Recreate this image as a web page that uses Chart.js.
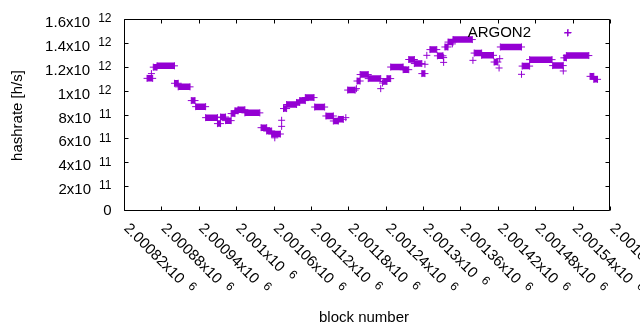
<!DOCTYPE html>
<html><head><meta charset="utf-8">
<script src="https://cdn.jsdelivr.net/npm/chart.js@4.4.0/dist/chart.umd.min.js"></script>
<style>html,body{margin:0;padding:0;background:#fff;}</style>
</head><body>
<canvas id="c" width="640" height="330"></canvas>
<script>
// ---- data ----
const seriesName = "ARGON2";
// runs of consecutive blocks at the same hashrate
const runStart = [2000857,2000867,2000873,2000901,2000907,2000928,2000935,2000951,2000970,2000975,2000983,2000992,2000998,2001003,2001014,2001040,2001049,2001057,2001076,2001081,2001097,2001102,2001111,2001126,2001144,2001156,2001164,2001179,2001194,2001199,2001212,2001236,2001242,2001248,2001268,2001277,2001286,2001298,2001311,2001323,2001335,2001340,2001348,2001382,2001394,2001414,2001424,2001459,2001471,2001508,2001526,2001530,2001568,2001574];
const runEnd   = [2000866,2000873,2000901,2000907,2000926,2000934,2000951,2000970,2000975,2000983,2000992,2000998,2001003,2001014,2001038,2001049,2001057,2001071,2001081,2001097,2001102,2001111,2001125,2001142,2001156,2001164,2001172,2001191,2001199,2001212,2001232,2001242,2001248,2001268,2001277,2001286,2001298,2001303,2001322,2001332,2001340,2001348,2001379,2001394,2001413,2001420,2001458,2001471,2001507,2001525,2001530,2001566,2001574,2001580];
const runHashrate = [1.111e12,1.205e12,1.216e12,1.070e12,1.040e12,0.925e12,0.874e12,0.782e12,0.732e12,0.787e12,0.757e12,0.816e12,0.839e12,0.848e12,0.822e12,0.698e12,0.670e12,0.645e12,0.858e12,0.892e12,0.909e12,0.925e12,0.950e12,0.871e12,0.796e12,0.754e12,0.768e12,1.013e12,1.089e12,1.143e12,1.109e12,1.085e12,1.109e12,1.206e12,1.184e12,1.269e12,1.235e12,1.151e12,1.352e12,1.300e12,1.374e12,1.415e12,1.436e12,1.323e12,1.304e12,1.248e12,1.374e12,1.214e12,1.268e12,1.218e12,1.283e12,1.302e12,1.128e12,1.103e12];
// isolated blocks
const pointBlock = [2000864,2001062,2001073,2001073,2001176,2001193,2001232,2001235,2001306,2001303,2001333,2001333,2001347,2001380,2001423,2001422,2001458,2001525,2001532];
const pointHashrate = [1.151e12,0.613e12,0.760e12,0.709e12,0.782e12,1.025e12,1.025e12,1.072e12,1.304e12,1.229e12,1.285e12,1.245e12,1.400e12,1.262e12,1.276e12,1.198e12,1.145e12,1.173e12,1.491e12];
// axes
const xTickValues = [2000820,2000880,2000940,2001000,2001060,2001120,2001180,2001240,2001300,2001360,2001420,2001480,2001540,2001600];
const xTickLabels = ["2.00082x10^6","2.00088x10^6","2.00094x10^6","2.001x10^6","2.00106x10^6","2.00112x10^6","2.00118x10^6","2.00124x10^6","2.0013x10^6","2.00136x10^6","2.00142x10^6","2.00148x10^6","2.00154x10^6","2.0016x10^6"];
const yTickValues = [0,2e11,4e11,6e11,8e11,1e12,1.2e12,1.4e12,1.6e12];
const yTickLabels = ["0","2x10^11","4x10^11","6x10^11","8x10^11","1x10^12","1.2x10^12","1.4x10^12","1.6x10^12"];
const xTitle = "block number";
const yTitle = "hashrate [h/s]";

const COLOR = "#9400d3";
const FONT = '"Liberation Sans", Arial, sans-serif';

const runData = [];
for (let i = 0; i < runStart.length; i++) {
  runData.push({x: runStart[i], y: runHashrate[i]});
  runData.push({x: runEnd[i], y: runHashrate[i]});
  runData.push({x: runEnd[i], y: null});
}
const pointData = pointBlock.map((b, i) => ({x: b, y: pointHashrate[i]}));

function splitSup(s) { const k = s.indexOf('^'); return k < 0 ? [s, ''] : [s.slice(0, k), s.slice(k + 1)]; }

const frame = {
  id: 'frame',
  afterDraw(chart) {
    const ctx = chart.ctx, a = chart.chartArea;
    const xs = chart.scales.x, ys = chart.scales.y;
    const L = a.left + 0.5, R = a.right - 0.5, T = a.top - 0.5, B = a.bottom - 0.5;
    ctx.save();
    ctx.strokeStyle = '#000'; ctx.lineWidth = 1;
    ctx.beginPath();
    ctx.rect(L, T, R - L, B - T);
    const tl = 4;
    yTickValues.forEach(v => {
      const y = Math.round(ys.getPixelForValue(v)) - 0.5;
      ctx.moveTo(L, y); ctx.lineTo(L + tl, y);
      ctx.moveTo(R, y); ctx.lineTo(R - tl, y);
    });
    xTickValues.forEach(v => {
      const x = Math.round(xs.getPixelForValue(v)) + 0.5;
      ctx.moveTo(x, B); ctx.lineTo(x, B - tl);
      ctx.moveTo(x, T); ctx.lineTo(x, T + tl);
    });
    ctx.stroke();

    ctx.fillStyle = '#000';
    // y tick labels
    yTickValues.forEach((v, i) => {
      const y = ys.getPixelForValue(v);
      const [m, s] = splitSup(yTickLabels[i]);
      const xEnd = 111.5;
      if (!s) {
        ctx.font = '15px ' + FONT; ctx.textAlign = 'right'; ctx.textBaseline = 'middle';
        ctx.fillText(m, xEnd, y);
      } else {
        ctx.textBaseline = 'alphabetic';
        ctx.font = '12px ' + FONT; ctx.textAlign = 'right';
        const ws = ctx.measureText(s).width;
        ctx.fillText(s, xEnd, y + 2.3);
        ctx.font = '15px ' + FONT;
        ctx.fillText(m, xEnd - ws - 8, y + 7);
      }
    });
    // x tick labels rotated
    xTickValues.forEach((v, i) => {
      const x = xs.getPixelForValue(v);
      const [m, s] = splitSup(xTickLabels[i]);
      ctx.save();
      ctx.translate(x - 0.8, 229);
      ctx.rotate(Math.PI / 4);
      ctx.textAlign = 'left'; ctx.textBaseline = 'alphabetic';
      ctx.font = '15px ' + FONT;
      ctx.fillText(m, 0, 0);
      const wm = ctx.measureText(m).width;
      ctx.font = '12px ' + FONT;
      ctx.fillText(s, wm + 8, -4.7);
      ctx.restore();
    });
    // titles
    ctx.font = '15px ' + FONT; ctx.textAlign = 'center'; ctx.textBaseline = 'alphabetic';
    ctx.fillText(xTitle, 364, 322);
    ctx.save();
    ctx.translate(22, 115.5); ctx.rotate(-Math.PI / 2);
    ctx.fillText(yTitle, 0, 0);
    ctx.restore();
    // legend
    ctx.textAlign = 'right';
    ctx.fillText(seriesName, 531, 37);
    ctx.strokeStyle = COLOR; ctx.beginPath();
    ctx.moveTo(564.5, 32.5); ctx.lineTo(571.5, 32.5);
    ctx.moveTo(568, 29); ctx.lineTo(568, 36);
    ctx.stroke();
    ctx.restore();
  }
};

new Chart(document.getElementById('c'), {
  type: 'line',
  data: { datasets: [
    { label: seriesName, data: runData, borderColor: COLOR, backgroundColor: COLOR, borderWidth: 6.5,
      borderCapStyle: 'butt', spanGaps: false, tension: 0, fill: false,
      pointStyle: 'cross', pointRadius: 3.5, pointBorderWidth: 1, pointBorderColor: COLOR, pointBackgroundColor: COLOR },
    { label: seriesName, data: pointData, showLine: false, borderColor: COLOR, backgroundColor: COLOR,
      pointStyle: 'cross', pointRadius: 3.5, pointBorderWidth: 1, pointBorderColor: COLOR, pointBackgroundColor: COLOR }
  ]},
  options: {
    responsive: false, animation: false, events: [],
    layout: { padding: { left: 124, right: 30, top: 20, bottom: 119 } },
    plugins: { legend: { display: false }, tooltip: { enabled: false } },
    scales: {
      x: { type: 'linear', min: 2000820, max: 2001600, display: false },
      y: { type: 'linear', min: 0, max: 1.6e12, display: false }
    }
  },
  plugins: [frame]
});
</script>
</body></html>
